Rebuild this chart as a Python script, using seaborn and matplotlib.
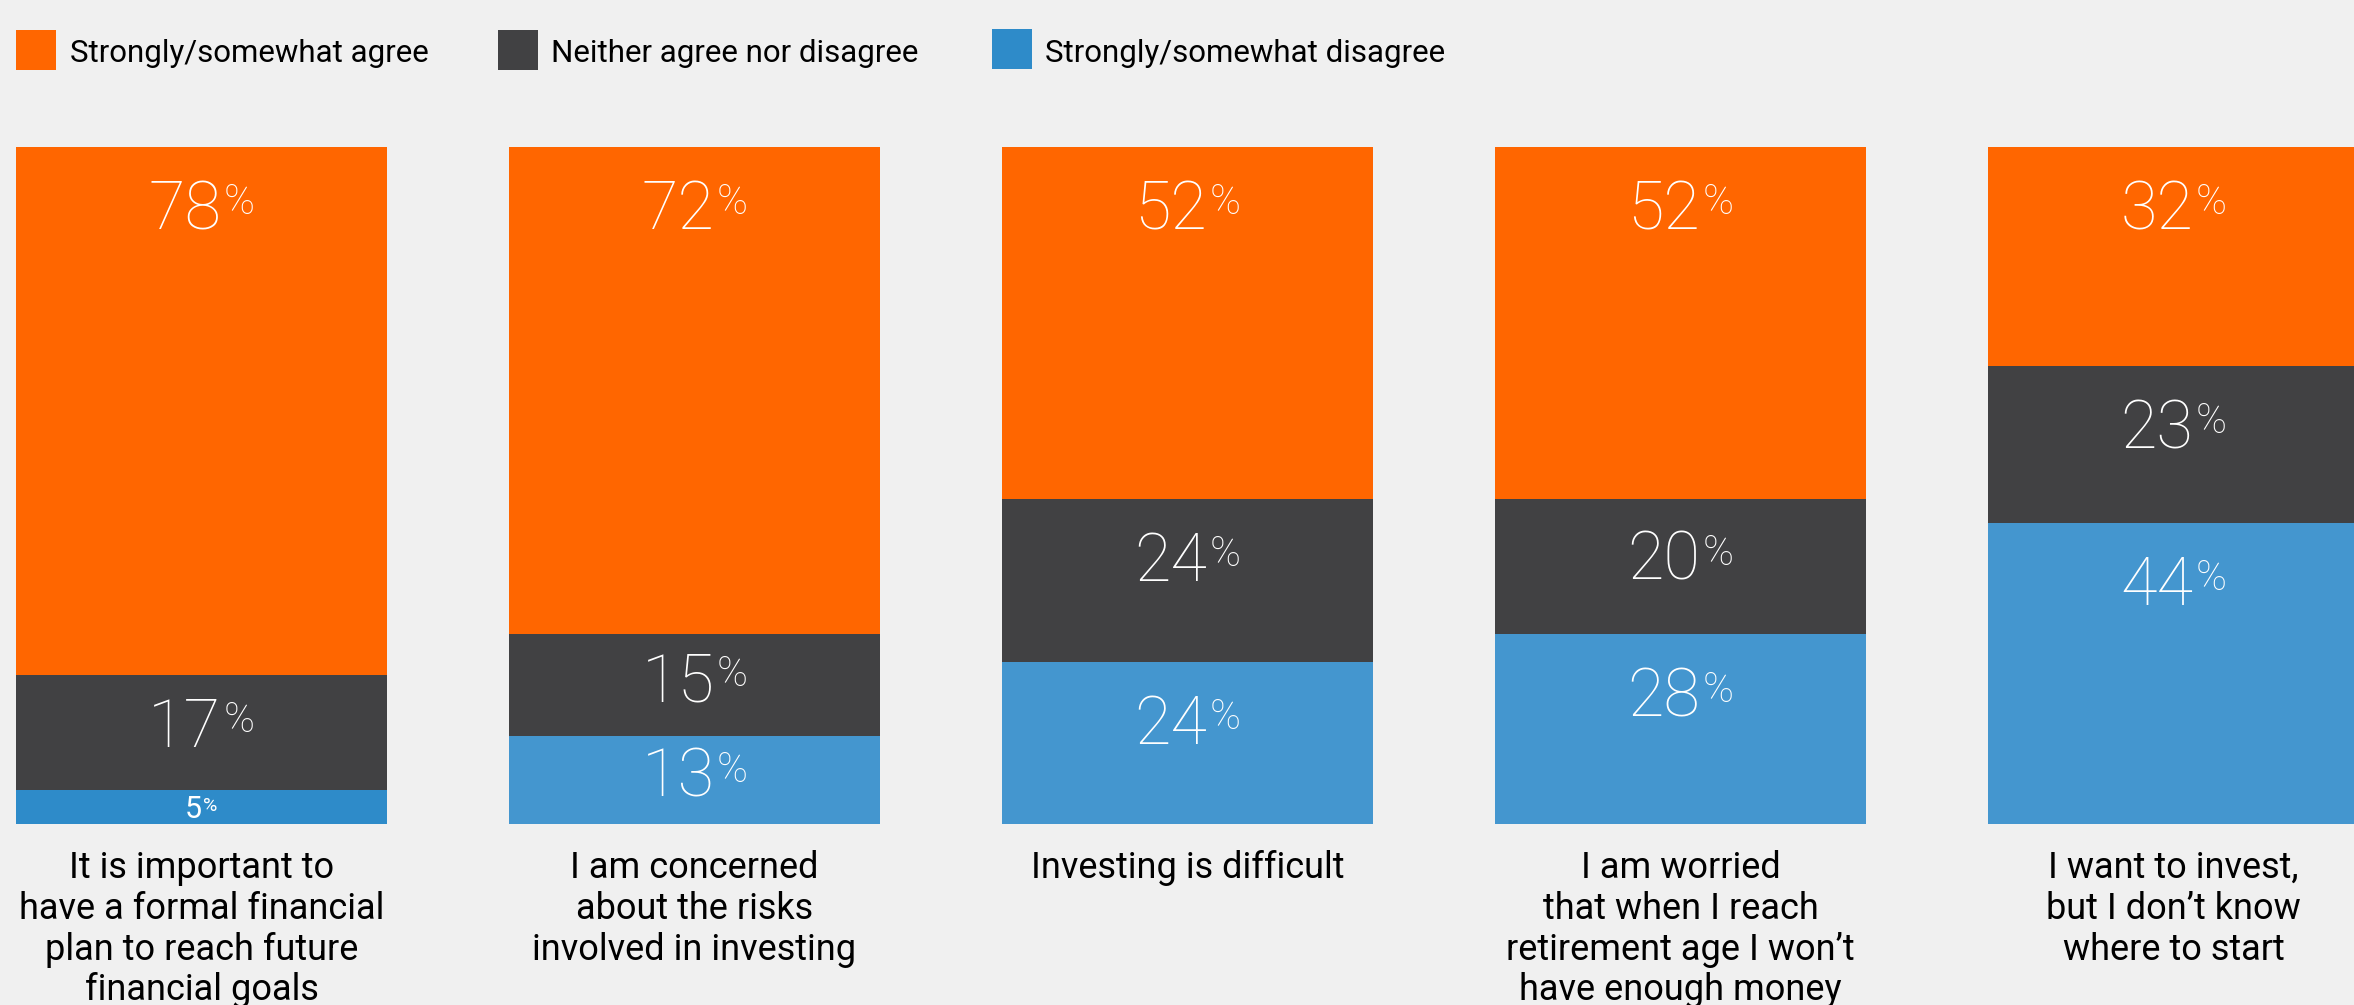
import matplotlib
matplotlib.use("Agg")
import matplotlib.pyplot as plt
from matplotlib.patches import Rectangle
from matplotlib.transforms import Affine2D
import seaborn as sns
import pandas as pd
import numpy as np

# ---------------- data ----------------
categories = [
    "It is important to\nhave a formal financial\nplan to reach future\nfinancial goals",
    "I am concerned\nabout the risks\ninvolved in investing",
    "Investing is difficult",
    "I am worried\nthat when I reach\nretirement age I won\u2019t\nhave enough money",
    "I want to invest,\nbut I don\u2019t know\nwhere to start",
]
agree = [78, 72, 52, 52, 32]
neither = [17, 15, 24, 20, 23]
disagree = [5, 13, 24, 28, 44]
series_names = ["Strongly/somewhat agree", "Neither agree nor disagree", "Strongly/somewhat disagree"]

ORANGE = "#FF6600"
DARK = "#414143"
BLUE = "#4496CF"
BLUE1 = "#2E8BC9"
BG = "#F0F0F0"

W, H = 2354, 1005
sns.set_theme(style="white")
plt.rcParams["font.family"] = ["Roboto", "DejaVu Sans"]

fig = plt.figure(figsize=(W / 100, H / 100), dpi=100, facecolor=BG)
ax = fig.add_axes([0, 0, 1, 1])
ax.set_facecolor(BG)

tot = np.array(agree) + np.array(neither) + np.array(disagree)
dis_s = np.array(disagree) / tot * 100
nei_s = np.array(neither) / tot * 100
agr_s = np.array(agree) / tot * 100

df = pd.DataFrame({
    "cat": categories,
    "top": dis_s + nei_s + agr_s,
    "mid": dis_s + nei_s,
    "low": dis_s,
})

bw = 371 / 493
sns.barplot(data=df, x="cat", y="top", color=ORANGE, saturation=1, width=bw, ax=ax, linewidth=0)
sns.barplot(data=df, x="cat", y="mid", color=DARK, saturation=1, width=bw, ax=ax, linewidth=0)
sns.barplot(data=df, x="cat", y="low", hue="cat", palette=[BLUE1] + [BLUE] * 4,
            saturation=1, width=bw, ax=ax, linewidth=0, legend=False)

pxu = 6.77  # pixels per percentage point
ax.set_xlim(-201.5 / 493, (W - 201.5) / 493)
ax.set_ylim(-(H - 824) / pxu, 100 + 147 / pxu)
ax.axis("off")

# ---------------- value labels ----------------
num_font = ["Roboto", "DejaVu Sans"]
pairs = []
for i in range(len(categories)):
    segs = [(dis_s[i], disagree[i]), (nei_s[i], neither[i]), (agr_s[i], agree[i])]
    base = 0
    for h, v in segs:
        top = base + h
        big = h >= 8
        if big:
            yc = top - min(8.6, h * 0.42)
            fs_n, fs_p, cap_n, cap_p, w = 48, 30, 48, 30, "light"
        else:
            yc = top - h / 2
            fs_n, fs_p, cap_n, cap_p, w = 22, 14, 22, 14, "normal"
        tn = ax.text(i, yc, f"{v}", fontsize=fs_n, color="white", ha="left", va="baseline",
                     family=num_font, fontweight=w)
        tp = ax.text(i, yc, "%", fontsize=fs_p, color="white", ha="left", va="baseline",
                     family=num_font, fontweight=w)
        pairs.append((tn, tp, cap_n, cap_p))
        base = top

fig.canvas.draw()
r = fig.canvas.get_renderer()
for tn, tp, cap_n, cap_p in pairs:
    wn = tn.get_window_extent(r).width
    wp = tp.get_window_extent(r).width
    gap = 2 if cap_n > 30 else 1
    total = wn + gap + wp
    tn.set_transform(ax.transData + Affine2D().translate(-total / 2, -cap_n / 2))
    tp.set_transform(ax.transData + Affine2D().translate(-total / 2 + wn + gap,
                                                         -cap_n / 2 + cap_n - cap_p - 3 * cap_n / 47))

# ---------------- category labels ----------------
for i, c in enumerate(categories):
    ax.text(i, (824 - 850) / pxu, c, ha="center", va="top", fontsize=26,
            color="black", linespacing=1.17)

# ---------------- legend ----------------
leg = [(16, 30, ORANGE, 70), (498, 30, DARK, 551), (992, 29, BLUE1, 1045)]
for (x0, y0, col, tx), name in zip(leg, series_names):
    fig.add_artist(Rectangle((x0 / W, 1 - (y0 + 40) / H), 40 / W, 40 / H,
                             transform=fig.transFigure, facecolor=col, edgecolor="none"))
    fig.text(tx / W, 1 - 62 / H, name, fontsize=22.5, color="black", ha="left", va="baseline")

fig.savefig("out.png", dpi=100, facecolor=BG)
